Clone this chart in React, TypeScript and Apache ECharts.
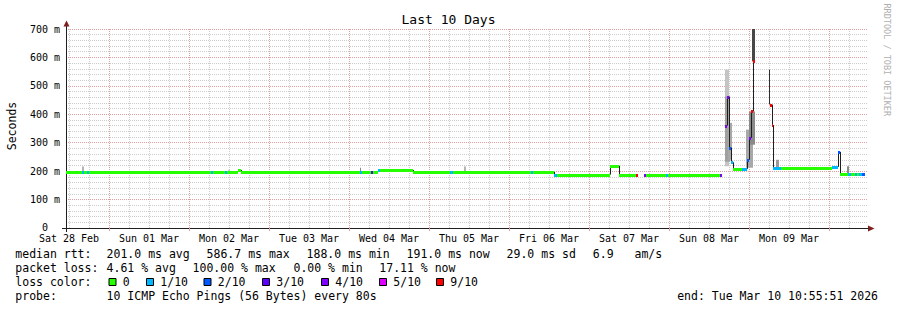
import React, { useEffect, useRef } from 'react';
import * as echarts from 'echarts';

const FONT = '"DejaVu Sans Mono", monospace';

// ---- axis ticks / labels (hours since Sat 28 Feb 00:00) ----
const dayLabels = ['Sat 28 Feb', 'Sun 01 Mar', 'Mon 02 Mar', 'Tue 03 Mar', 'Wed 04 Mar', 'Thu 05 Mar', 'Fri 06 Mar', 'Sat 07 Mar', 'Sun 08 Mar', 'Mon 09 Mar'];
const dayLabelHours = [12, 36, 60, 84, 108, 132, 156, 180, 204, 228];
const majorGridHours = [24, 48, 72, 96, 120, 144, 168, 192, 216, 240];
const minorGridHours = [12, 18, 30, 36, 42, 54, 60, 66, 78, 84, 90, 102, 108, 114, 126, 132, 138, 150, 156, 162, 174, 180, 186, 198, 204, 210, 222, 228, 234, 246];

// ---- median rtt samples: start hour, median (ms), loss (x/10); null = no data ----
const sampleHour = [11.1, 15.9, 16.5, 17.4, 18.0, 54.6, 55.2, 58.8, 59.4, 62.7, 63.6, 99.3, 99.9, 102.6, 103.2, 104.7, 105.3, 115.2, 126.3, 127.2, 150.6, 151.2, 157.5, 158.4, 174.3, 177.0, 182.1, 182.7, 184.5, 185.1, 191.1, 191.7, 207.3, 207.9, 208.8, 209.4, 210.0, 210.6, 211.2, 213.9, 215.4, 216.0, 216.6, 217.2, 217.8, 222.3, 222.9, 223.2, 225.6, 240.9, 242.1, 242.7, 243.3, 245.7, 246.6, 247.8, 248.4, 249.0, 249.9, 250.8];
const sampleMedian = [198, 198, 198, 198, 198, 198, 198, 198, 198, 204, 198, 198, 198, 198, 198, 204, 204, 197, 197, 197, 197, 197, 188, 188, 219, 188, 188, null, 188, 188, 188, 188, 188, null, 360, 462, 283, 231, 208, 208, 240, 317, 410, 587, null, 434, 362, 211, 211, 213, 215, 268, 191, 191, 191, 191, 191, 191, 191, null];
const sampleLoss = [0, 1, 0, 1, 0, 1, 0, 1, 0, 0, 0, 1, 0, 3, 0, 1, 0, 0, 1, 0, 1, 0, 1, 0, 0, 0, 9, null, 4, 0, 1, 0, 4, null, 4, 4, 2, 1, 0, 1, 2, 4, 9, 9, null, 9, 9, 1, 0, 1, 1, 2, 0, 1, 0, 1, 0, 1, 2, null];

// ---- smoke (ping spread) ----
const smokeStart = [15.9, 59.7, 99.3, 130.5, 154.2, 208.8, 208.8, 209.7, 215.1, 216.0, 216.9, 222.0, 224.1, 245.4];
const smokeEnd = [16.5, 60.3, 99.6, 131.1, 154.8, 210.0, 210.3, 210.9, 217.2, 217.8, 217.8, 222.3, 225.0, 246.0];
const smokeLow = [198, 198, 198, 197, 197, 217, 233, 240, 212, 293, 586, 434, 211, 191];
const smokeHigh = [216, 205, 212, 216, 201, 557, 463, 370, 346, 410, 700, 557, 240, 217];
const smokeShade = ['#b4b4b4', '#cccccc', '#8c8c8c', '#b4b4b4', '#cccccc', '#c4c4c4', '#a0a0a0', '#a8a8a8', '#a8a8a8', '#8a8a8a', '#474747', '#2e2e2e', '#9a9a9a', '#8a8a8a'];

// ---- loss colours legend ----
const lossLevels = [0, 1, 2, 3, 4, 5, 9];
const lossLabels = ['0', '1/10', '2/10', '3/10', '4/10', '5/10', '9/10'];
const lossColors: Record<number, string> = { 0: '#26ff00', 1: '#00b8ff', 2: '#0059ff', 3: '#5e00ff', 4: '#7e00ff', 5: '#dd00ff', 9: '#ff0000' };
const lossBoxX = [108.5, 146, 203.5, 262, 321, 379, 436];

// ---- legend text ----
const legendLine1 = ['median rtt:', '201.0 ms avg', '586.7 ms max', '188.0 ms min', '191.0 ms now', '29.0 ms sd', '6.9', 'am/s'];
const legendLine1X = [15.3, 106.6, 206.6, 306.6, 406.6, 506.6, 592.8, 634.5];
const legendLine2 = ['packet loss:', '4.61 % avg', '100.00 % max', '0.00 % min', '17.11 % now'];
const legendLine2X = [15.3, 106.6, 192.6, 293.5, 379.3];
const legendLine4 = ['probe:', '10 ICMP Echo Pings (56 Bytes) every 80s', 'end: Tue Mar 10 10:55:51 2026'];
const legendLine4X = [15.3, 106.6, 677.2];

export default function App() {
  const ref = useRef<HTMLDivElement>(null);

  useEffect(() => {
    if (!ref.current) return;
    const chart = echarts.init(ref.current, undefined, { renderer: 'svg' });

    const medianRows: number[][] = [];
    for (let i = 0; i < sampleHour.length - 1; i++) {
      if (sampleMedian[i] == null) continue;
      medianRows.push([sampleHour[i], sampleHour[i + 1], sampleMedian[i] as number, sampleLoss[i] as number]);
    }
    const transitionRows: number[][] = [];
    for (let i = 1; i < sampleHour.length; i++) {
      const a = sampleMedian[i - 1];
      const b = sampleMedian[i];
      if (a == null || b == null || a === b) continue;
      transitionRows.push([sampleHour[i], a, b]);
    }
    const smokeRows = smokeStart.map((s, i) => [s, smokeEnd[i], smokeLow[i], smokeHigh[i], i]);

    const gridRender = (color: string) => (params: any, api: any) => {
      const h = api.value(0);
      const p0 = api.coord([h, 0]);
      const p1 = api.coord([h, 700]);
      const x = Math.round(p0[0]) + 0.5;
      return {
        type: 'line',
        silent: true,
        shape: { x1: x, y1: p0[1], x2: x, y2: p1[1] },
        style: { stroke: color, lineWidth: 1, lineDash: [1, 1] },
      };
    };

    const txt = (text: string, x: number, y: number, extra: any = {}) => ({
      type: 'text',
      x,
      y,
      silent: true,
      style: {
        text,
        fontFamily: FONT,
        fontSize: 11.5,
        fill: '#000',
        align: 'left',
        verticalAlign: 'middle',
        textAlign: 'left',
        textVerticalAlign: 'middle',
        ...extra,
      },
    });

    const graphic: any[] = [];
    // axis extensions and arrows
    graphic.push({ type: 'line', silent: true, shape: { x1: 66.5, y1: 29, x2: 66.5, y2: 25 }, style: { stroke: '#1f1f1f', lineWidth: 1 } });
    graphic.push({ type: 'line', silent: true, shape: { x1: 66.5, y1: 228, x2: 66.5, y2: 232 }, style: { stroke: '#1f1f1f', lineWidth: 1 } });
    graphic.push({ type: 'line', silent: true, shape: { x1: 62, y1: 228.5, x2: 66, y2: 228.5 }, style: { stroke: '#1f1f1f', lineWidth: 1 } });
    graphic.push({ type: 'polygon', silent: true, shape: { points: [[63.5, 26.5], [69.5, 26.5], [66.5, 20.5]] }, style: { fill: '#7f1f1f' } });
    graphic.push({ type: 'polygon', silent: true, shape: { points: [[868, 225.5], [868, 231.5], [874.5, 228.5]] }, style: { fill: '#7f1f1f' } });
    // y title
    graphic.push(txt('Seconds', 11.5, 126, { align: 'center', textAlign: 'center' }));
    graphic[graphic.length - 1].rotation = Math.PI / 2;
    // rrdtool credit
    graphic.push(txt('RRDTOOL / TOBI OETIKER', 886.5, 3.5, { fontSize: 8.5, fill: '#b0b0b0' }));
    graphic[graphic.length - 1].rotation = -Math.PI / 2;
    // legend lines
    legendLine1.forEach((t, i) => graphic.push(txt(t, legendLine1X[i], 253.8)));
    legendLine2.forEach((t, i) => graphic.push(txt(t, legendLine2X[i], 267.8)));
    graphic.push(txt('loss color:', 15.3, 281.8));
    lossLevels.forEach((lv, i) => {
      graphic.push({
        type: 'rect',
        silent: true,
        shape: { x: lossBoxX[i] + 0.5, y: 278.5, width: 7, height: 7 },
        style: { fill: lossColors[lv], stroke: '#000', lineWidth: 1 },
      });
      graphic.push(txt(lossLabels[i], lossBoxX[i] + 14.3, 281.8));
    });
    legendLine4.forEach((t, i) => graphic.push(txt(t, legendLine4X[i], 296)));

    const option: any = {
      animation: false,
      backgroundColor: '#ffffff',
      title: {
        text: 'Last 10 Days',
        left: 'center',
        top: 13,
        padding: 0,
        textStyle: { fontFamily: FONT, fontSize: 13, fontWeight: 'normal', color: '#000' },
      },
      grid: { left: 66, right: 29, top: 29, bottom: 82, containLabel: false },
      xAxis: {
        type: 'value',
        min: 11.1,
        max: 251.7,
        axisLine: { show: true, onZero: false, lineStyle: { color: '#1f1f1f', width: 1 } },
        axisTick: { show: true, customValues: majorGridHours, length: 3, lineStyle: { color: '#e0a0a0' } },
        axisLabel: {
          customValues: dayLabelHours,
          formatter: (v: number) => dayLabels[dayLabelHours.indexOf(Math.round(v))] || '',
          fontFamily: FONT,
          fontSize: 10,
          lineHeight: 10,
          color: '#000',
          margin: 5,
        },
        splitLine: { show: false },
      },
      yAxis: {
        type: 'value',
        min: 0,
        max: 700,
        interval: 100,
        axisLine: { show: true, lineStyle: { color: '#1f1f1f', width: 1 } },
        axisTick: { show: false },
        axisLabel: {
          formatter: (v: number) => (v === 0 ? '{z|0}' : `${v} m`),
          fontFamily: FONT,
          fontSize: 10,
          color: '#000',
          margin: 6,
          rich: { z: { fontFamily: FONT, fontSize: 10, lineHeight: 8, color: '#000', padding: [0, 12, 2, 0] } },
        },
        splitLine: { show: true, lineStyle: { color: '#e0a0a0', width: 1, type: [1, 1] } },
        minorTick: { show: false, splitNumber: 5 },
        minorSplitLine: { show: true, lineStyle: { color: '#cccccc', width: 1, type: [1, 1] } },
      },
      series: [
        {
          type: 'custom',
          name: 'grid-minor',
          silent: true,
          z: 1,
          clip: true,
          data: minorGridHours.map((h) => [h, 0]),
          renderItem: gridRender('#cccccc'),
        },
        {
          type: 'custom',
          name: 'grid-major',
          silent: true,
          z: 1,
          clip: true,
          data: majorGridHours.map((h) => [h, 0]),
          renderItem: gridRender('#e0a0a0'),
        },
        {
          type: 'custom',
          name: 'smoke',
          silent: true,
          z: 2,
          clip: true,
          data: smokeRows,
          encode: { x: [0, 1], y: [2, 3] },
          renderItem: (params: any, api: any) => {
            const idx = api.value(4);
            const pTop = api.coord([api.value(0), api.value(3)]);
            const pBot = api.coord([api.value(1), api.value(2)]);
            const x0 = Math.round(pTop[0]);
            const x1 = Math.max(x0 + 1, Math.round(pBot[0]));
            return {
              type: 'rect',
              shape: { x: x0, y: pTop[1], width: x1 - x0, height: pBot[1] - pTop[1] },
              style: { fill: smokeShade[idx] },
            };
          },
        },
        {
          type: 'custom',
          name: 'transitions',
          silent: true,
          z: 3,
          clip: true,
          data: transitionRows,
          encode: { x: 0, y: [1, 2] },
          renderItem: (params: any, api: any) => {
            const a = api.coord([api.value(0), api.value(1)]);
            const b = api.coord([api.value(0), api.value(2)]);
            const x = Math.round(a[0]) + 0.5;
            return {
              type: 'line',
              shape: { x1: x, y1: a[1], x2: x, y2: b[1] },
              style: { stroke: '#1f1f1f', lineWidth: 1 },
            };
          },
        },
        {
          type: 'custom',
          name: 'median rtt',
          silent: true,
          z: 4,
          clip: true,
          data: medianRows,
          encode: { x: [0, 1], y: 2 },
          renderItem: (params: any, api: any) => {
            const p0 = api.coord([api.value(0), api.value(2)]);
            const p1 = api.coord([api.value(1), api.value(2)]);
            const x0 = Math.round(p0[0]);
            const x1 = Math.max(x0 + 1, Math.round(p1[0]));
            const y0 = Math.round(p0[1]) - 1;
            return {
              type: 'rect',
              shape: { x: x0, y: y0, width: x1 - x0, height: 3 },
              style: { fill: lossColors[api.value(3)] || '#26ff00' },
            };
          },
        },
      ],
      graphic,
    };

    chart.setOption(option);
    return () => chart.dispose();
  }, []);

  return <div ref={ref} style={{ position: 'absolute', left: 0, top: 0, width: 897, height: 310 }} />;
}
